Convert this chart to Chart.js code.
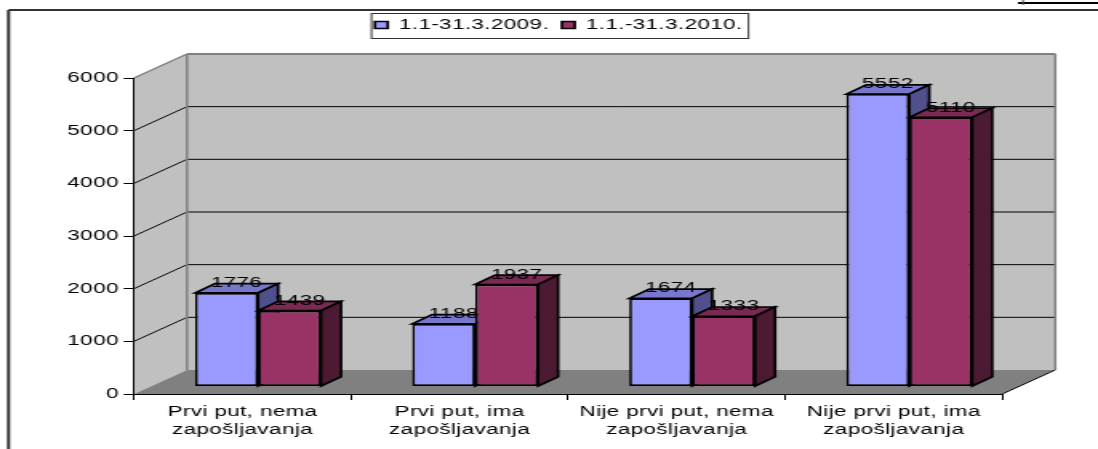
<!DOCTYPE html>
<html>
<head>
<meta charset="utf-8">
<title>Chart</title>
<script src="https://cdn.jsdelivr.net/npm/chart.js@4"></script>
<style>
  html, body { margin: 0; padding: 0; background: #fff; overflow: hidden; }
  #wrap { width: 1098px; height: 449px; overflow: hidden; }
  /* the original picture is stretched sideways, so the canvas is too */
  canvas { display: block; transform-origin: 0 0; transform: scaleX(1.6006); }
</style>
</head>
<body>
<div id="wrap"><canvas id="myChart" width="686" height="449"></canvas></div>
<script>
'use strict';

// chart data
let categories = [
  ['Prvi put, nema', 'zapošljavanja'],
  ['Prvi put, ima', 'zapošljavanja'],
  ['Nije prvi put, nema', 'zapošljavanja'],
  ['Nije prvi put, ima', 'zapošljavanja']
];
let seriesNames = ['1.1-31.3.2009.', '1.1.-31.3.2010.'];
let values2009 = [1776, 1188, 1674, 5552];
let values2010 = [1439, 1937, 1333, 5110];

// faces of the boxes: front, top, side
let colors2009 = ['#9999FF', '#7777CC', '#50508C'];
let colors2010 = ['#993366', '#7A2952', '#4D1A33'];

// canvas is stretched, so 1 unit across is this many screen pixels
let sx = 1098 / 686;

// depth of the room and of the boxes, in canvas units
let wallDx = 53 / sx;
let wallDy = 24;
let barDx = 15.5 / sx;
let barDy = 7.5;
let boxDx = 20 / sx;
let boxDy = 9.3;

let fontFace = '"Liberation Sans", Arial, sans-serif';

function poly(ctx, pts, fill, stroke, width) {
  ctx.beginPath();
  ctx.moveTo(pts[0][0], pts[0][1]);
  for (let i = 1; i < pts.length; i++) {
    ctx.lineTo(pts[i][0], pts[i][1]);
  }
  ctx.closePath();
  if (fill) {
    ctx.fillStyle = fill;
    ctx.fill();
  }
  if (stroke) {
    ctx.strokeStyle = stroke;
    ctx.lineWidth = width;
    ctx.stroke();
  }
}

function line(ctx, x1, y1, x2, y2, color, width) {
  ctx.beginPath();
  ctx.moveTo(x1, y1);
  ctx.lineTo(x2, y2);
  ctx.strokeStyle = color;
  ctx.lineWidth = width;
  ctx.stroke();
}

// walls, floor, frame, legend box, boxes and their labels
let roomPlugin = {
  id: 'room',
  beforeLayout(chart) {
    // text in the original is spaced out a little more than the font
    chart.ctx.letterSpacing = '0.25px';
  },
  afterLayout(chart) {
    // legend sits up in its box, right of centre in the original
    chart.legend.left += 36;
    chart.legend.right += 36;
    chart.legend.top -= 36;
    chart.legend.bottom -= 36;
  },
  beforeDraw(chart) {
    let ctx = chart.ctx;
    let a = chart.chartArea;
    let yScale = chart.scales.y;
    let backL = a.left + wallDx;
    let backR = a.right + wallDx;
    let backT = a.top - wallDy;
    let backB = a.bottom - wallDy;

    ctx.save();
    ctx.fillStyle = '#fff';
    ctx.fillRect(0, 0, chart.width, chart.height);

    // outer frame, open on the right and at the bottom
    line(ctx, 8.5 / sx, 10, chart.width, 10, '#333', 2);
    line(ctx, 8.5 / sx, 10, 8.5 / sx, chart.height, '#333', 2);
    // stray mark in the top right corner
    line(ctx, 1018 / sx, 3, chart.width, 3, '#000', 2);
    line(ctx, 1023 / sx, 0, 1023 / sx, 5, '#555', 1);

    // side wall, back wall, floor
    poly(ctx, [[a.left, a.top], [backL, backT], [backL, backB], [a.left, a.bottom]], '#C0C0C0');
    poly(ctx, [[backL, backT], [backR, backT], [backR, backB], [backL, backB]], '#C0C0C0');
    poly(ctx, [[a.left, a.bottom], [backL, backB], [backR, backB], [a.right, a.bottom]], '#808080');

    // gridlines run over the side wall and the back wall
    yScale.ticks.forEach(function (tick) {
      if (tick.value === 0 || tick.value === yScale.max) {
        return;
      }
      let y = yScale.getPixelForValue(tick.value);
      line(ctx, a.left, y, backL, y - wallDy, '#000', 1);
      line(ctx, backL, y - wallDy, backR, y - wallDy, '#000', 1);
    });

    // grey edges of the walls
    line(ctx, a.left, a.top, backL, backT, '#808080', 1.5);
    line(ctx, backL, backT, backR, backT, '#808080', 2);
    line(ctx, backL, backT, backL, backB, '#808080', 1.5);
    line(ctx, backR, backT, backR, backB, '#808080', 1.5);
    line(ctx, a.right, a.bottom, backR, backB, '#000', 1);

    // legend box
    ctx.strokeStyle = '#333';
    ctx.lineWidth = 1;
    ctx.strokeRect(371.5 / sx, 13.5, 377 / sx, 25);
    ctx.restore();
  },
  // the second series has to paint over the side of the first, the library
  // paints them the other way round, so run the controllers here in our order
  beforeDatasetsDraw(chart) {
    let ctx = chart.ctx;
    chart.data.datasets.forEach(function (ds, i) {
      let meta = chart.getDatasetMeta(i);
      ctx.save();
      ctx.translate(barDx, -barDy);
      meta.data.forEach(function (bar) {
        let left = bar.x - bar.width / 2;
        let right = bar.x + bar.width / 2;
        poly(ctx, [[left, bar.y], [left + boxDx, bar.y - boxDy], [right + boxDx, bar.y - boxDy], [right, bar.y]], ds.faces[1], '#000', 1.7);
        poly(ctx, [[right, bar.y], [right + boxDx, bar.y - boxDy], [right + boxDx, bar.base - boxDy], [right, bar.base]], ds.faces[2], '#000', 1.7);
      });
      meta.controller.draw();
      ctx.restore();
    });

    // value labels
    ctx.save();
    ctx.font = '14px ' + fontFace;
    ctx.fillStyle = '#000';
    ctx.textAlign = 'center';
    ctx.textBaseline = 'middle';
    chart.data.datasets.forEach(function (ds, i) {
      chart.getDatasetMeta(i).data.forEach(function (bar, j) {
        ctx.fillText(ds.data[j], bar.x + barDx + boxDx / 2, bar.y - barDy - 9.7);
      });
    });
    ctx.restore();
    return false;
  }
};

let ctx = document.getElementById('myChart').getContext('2d');
let myChart = new Chart(ctx, {
  type: 'bar',
  data: {
    labels: categories,
    datasets: [
      {
        label: seriesNames[0],
        data: values2009,
        faces: colors2009,
        backgroundColor: colors2009[0]
      },
      {
        label: seriesNames[1],
        data: values2010,
        faces: colors2010,
        backgroundColor: colors2010[0]
      }
    ]
  },
  plugins: [roomPlugin],
  options: {
    responsive: false,
    animation: false,
    layout: {
      padding: { top: 46, right: 59.8, left: 0, bottom: 0 }
    },
    datasets: {
      bar: {
        categoryPercentage: 0.58,
        barPercentage: 1,
        borderColor: '#000',
        borderWidth: 1.7,
        borderSkipped: false
      }
    },
    plugins: {
      tooltip: { enabled: false },
      legend: {
        position: 'top',
        labels: {
          color: '#000',
          font: { family: fontFace, size: 14 },
          boxWidth: 8,
          boxHeight: 7,
          padding: 8
        }
      }
    },
    scales: {
      x: {
        afterFit(scale) { scale.height = 55; },
        border: { color: '#000', width: 1 },
        grid: { drawOnChartArea: false, drawTicks: true, tickLength: 6, tickColor: '#000' },
        ticks: {
          color: '#000',
          padding: 3,
          maxRotation: 0,
          autoSkip: false,
          font: { family: fontFace, size: 14, lineHeight: 1.3 }
        }
      },
      y: {
        min: 0,
        max: 6000,
        afterFit(scale) { scale.width = 134 / sx; },
        border: { color: '#000', width: 1 },
        grid: { drawOnChartArea: false, drawTicks: true, tickLength: 6.5, tickColor: '#000' },
        ticks: {
          stepSize: 1000,
          color: '#000',
          padding: 3,
          font: { family: fontFace, size: 14 },
          callback(value) { return String(value); }
        }
      }
    }
  }
});
</script>
</body>
</html>
